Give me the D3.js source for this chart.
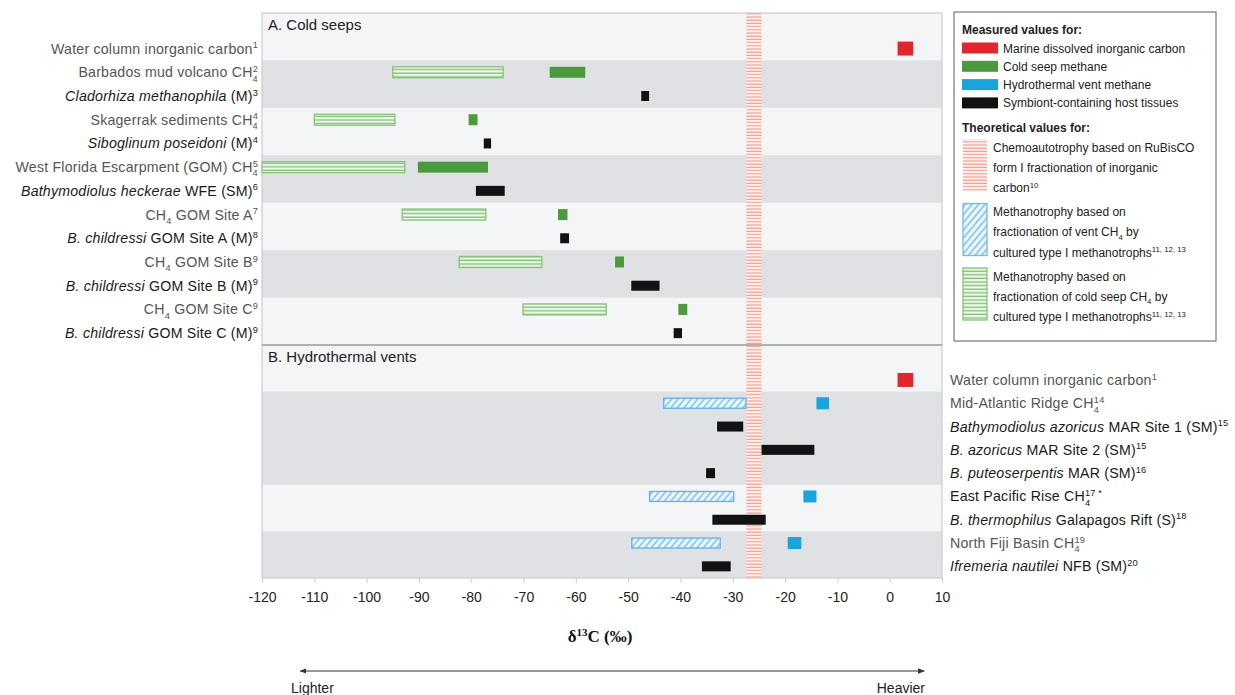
<!DOCTYPE html>
<html>
<head>
<meta charset="utf-8">
<script src="https://cdn.jsdelivr.net/npm/d3@7"></script>
<style>
body { margin: 0; background: #fff; font-family: "Liberation Sans", Arial, sans-serif; }
</style>
</head>
<body>
<svg width="1235" height="695"></svg>
<script>
// Row labels, top to bottom. *x* = italic, _{x} = subscript, ^{x} = superscript
var seepRows = [
    "Water column inorganic carbon^{1}",
    "Barbados mud volcano CH_{4}^{2}",
    "*Cladorhiza methanophila* (M)^{3}",
    "Skagerrak sediments CH_{4}^{4}",
    "*Siboglinum poseidoni* (M)^{4}",
    "West Florida Escarpment (GOM) CH_{4}^{5}",
    "*Bathymodiolus heckerae* WFE (SM)^{6}",
    "CH_{4} GOM Site A^{7}",
    "*B. childressi* GOM Site A (M)^{8}",
    "CH_{4} GOM Site B^{9}",
    "*B. childressi* GOM Site B (M)^{9}",
    "CH_{4} GOM Site C^{9}",
    "*B. childressi* GOM Site C (M)^{9}"
];
var seepGroups = [1, 2, 2, 2, 2, 2, 2];   // rows sharing one background band

var ventRows = [
    "Water column inorganic carbon^{1}",
    "Mid-Atlantic Ridge CH_{4}^{14}",
    "*Bathymodiolus azoricus* MAR Site 1 (SM)^{15}",
    "*B. azoricus* MAR Site 2 (SM)^{15}",
    "*B. puteoserpentis* MAR (SM)^{16}",
    "East Pacific Rise CH_{4}^{17 *}",
    "*B. thermophilus* Galapagos Rift (S)^{18}",
    "North Fiji Basin CH_{4}^{19}",
    "*Ifremeria nautilei* NFB (SM)^{20}"
];
var ventGroups = [1, 4, 2, 2];

// [row, low, high] in per mil
var seepDIC = [[0, 1.5, 4.5]];
var seepMethane = [[1, -65, -58.2], [3, -80.5, -78.8], [5, -90.2, -76.8], [7, -63.4, -61.6], [9, -52.5, -50.8], [11, -40.4, -38.7]];
var seepTheory = [[1, -95, -73.9], [3, -110, -94.6], [5, -120, -92.7], [7, -93.2, -77.2], [9, -82.3, -66.5], [11, -70.1, -54.2]];
var seepHost = [[2, -47.5, -46], [4, -77.6, -76.2], [6, -79.1, -73.6], [8, -63, -61.3], [10, -49.4, -44], [12, -41.3, -39.7]];

var ventDIC = [[0, 1.5, 4.5]];
var ventMethane = [[1, -14, -11.6], [5, -16.5, -14], [7, -19.5, -16.9]];
var ventTheory = [[1, -43.2, -27.5], [5, -45.9, -29.8], [7, -49.3, -32.4]];
var ventHost = [[2, -33, -28], [3, -24.5, -14.4], [4, -35.1, -33.4], [6, -33.9, -23.7], [8, -35.9, -30.4]];

var rubiscoBand = [-27.4, -24.5];
var xTicks = [-120, -110, -100, -90, -80, -70, -60, -50, -40, -30, -20, -10, 0, 10];

var legendMeasured = ["Marine dissolved inorganic carbon", "Cold seep methane", "Hydrothermal vent methane", "Symbiont-containing host tissues"];
var legendTheory = [
    ["Chemoautotrophy based on RuBisCO", "form I fractionation of inorganic", "carbon^{10}"],
    ["Methanotrophy based on", "fractionation of vent CH_{4} by", "cultured type I methanotrophs^{11, 12, 13}"],
    ["Methanotrophy based on", "fractionation of cold seep CH_{4} by", "cultured type I methanotrophs^{11, 12, 13}"]
];

var RED = "#e2262e", GREEN = "#4b9a3b", CYAN = "#19a4dc", BLACK = "#121212";

var svg = d3.select("svg");
var plotL = 262, plotR = 942, plotT = 13, plotMid = 345, plotB = 578;

var x = d3.scaleLinear().domain([-120, 10]).range([plotL, plotR]);

// patterns
var defs = svg.append("defs");
var hp = defs.append("pattern").attr("id", "redlines").attr("patternUnits", "userSpaceOnUse")
    .attr("width", 8).attr("height", 3.2);
hp.append("rect").attr("width", 8).attr("height", 3.2).attr("fill", "#fcf1ef");
hp.append("line").attr("x1", 0).attr("x2", 8).attr("y1", 1).attr("y2", 1)
    .attr("stroke", "#f0a090").attr("stroke-width", 1.2);
var bp = defs.append("pattern").attr("id", "bluehatch").attr("patternUnits", "userSpaceOnUse")
    .attr("width", 5).attr("height", 5).attr("patternTransform", "rotate(40)");
bp.append("rect").attr("width", 5).attr("height", 5).attr("fill", "#eef7fc");
bp.append("line").attr("x1", 1).attr("x2", 1).attr("y1", 0).attr("y2", 5)
    .attr("stroke", "#7ec2ea").attr("stroke-width", 1.6);
var gp = defs.append("pattern").attr("id", "greenlines").attr("patternUnits", "userSpaceOnUse")
    .attr("width", 8).attr("height", 3.6);
gp.append("rect").attr("width", 8).attr("height", 3.6).attr("fill", "#f4faf2");
gp.append("line").attr("x1", 0).attr("x2", 8).attr("y1", 1.2).attr("y2", 1.2)
    .attr("stroke", "#7fc073").attr("stroke-width", 1.4);

function richText(sel, str, size) {
    var parts = str.match(/\*[^*]+\*|_\{[^}]*\}|\^\{[^}]*\}|[^*_^]+/g);
    var shift = 0, prev = null;
    parts.forEach(function(p) {
        var t = sel.append("tspan"), target = 0, txt = p;
        if (p[0] === "*") { txt = p.slice(1, -1); t.attr("font-style", "italic"); }
        else if (p[0] === "_") { txt = p.slice(2, -1); target = size * 0.3; t.attr("font-size", size * 0.65); }
        else if (p[0] === "^") {
            txt = p.slice(2, -1); target = -size * 0.38; t.attr("font-size", size * 0.65);
            if (prev === "_") t.attr("dx", -size * 0.37);
        }
        t.attr("dy", target - shift).text(txt);
        shift = target; prev = p[0];
    });
}

function drawPanel(title, rows, groups, y0, y1, labelSide) {
    var y = d3.scaleBand().domain(d3.range(rows.length + 1)).range([y0, y1]);
    var g = svg.append("g");
    g.append("rect").attr("x", plotL).attr("y", y0).attr("width", plotR - plotL).attr("height", y1 - y0)
        .attr("fill", "#f4f5f7");
    // shaded bands per group
    var start = 1;
    groups.forEach(function(n, i) {
        if (i % 2 === 1) {
            g.append("rect").attr("x", plotL).attr("width", plotR - plotL)
                .attr("y", y(start)).attr("height", y.bandwidth() * n).attr("fill", "#dfe1e4");
        }
        start += n;
    });
    g.append("text").attr("x", plotL + 6).attr("y", y(0) + y.bandwidth() / 2 + 5)
        .attr("font-size", 15).attr("fill", "#222").text(title);

    // labels
    rows.forEach(function(r, i) {
        var species = r.indexOf("*") >= 0;
        var t = svg.append("text")
            .attr("x", labelSide === "left" ? plotL - 4 : plotR + 8)
            .attr("y", y(i + 1) + y.bandwidth() / 2 + 5)
            .attr("text-anchor", labelSide === "left" ? "end" : "start")
            .attr("font-size", 14.2)
            .attr("letter-spacing", 0.2)
            .attr("fill", species ? "#1a1a1a" : "#555");
        richText(t, r, 14.2);
    });
    return y;
}

function bars(y, data, h, style) {
    var sel = svg.append("g").selectAll("rect").data(data).enter().append("rect")
        .attr("x", d => x(d[1]))
        .attr("width", d => x(d[2]) - x(d[1]))
        .attr("y", d => y(d[0] + 1) + y.bandwidth() / 2 - h / 2)
        .attr("height", h);
    style(sel);
}

var yA = drawPanel("A. Cold seeps", seepRows, seepGroups, plotT, plotMid, "left");
var yB = drawPanel("B. Hydrothermal vents", ventRows, ventGroups, plotMid, plotB, "right");

// RuBisCO band across both panels
svg.append("rect").attr("x", x(rubiscoBand[0])).attr("width", x(rubiscoBand[1]) - x(rubiscoBand[0]))
    .attr("y", plotT).attr("height", plotB - plotT).attr("fill", "url(#redlines)");

function hollowGreen(s) { s.attr("fill", "url(#greenlines)").attr("stroke", "#86c27a").attr("stroke-width", 1.3); }
function hatchBlue(s) { s.attr("fill", "url(#bluehatch)").attr("stroke", "#5fb2e3").attr("stroke-width", 1.3); }

bars(yA, seepTheory, 11, hollowGreen);
bars(yA, seepMethane, 11, s => s.attr("fill", GREEN));
bars(yA, seepHost, 10, s => s.attr("fill", BLACK));
bars(yA, seepDIC, 14, s => s.attr("fill", RED));

bars(yB, ventTheory, 10, hatchBlue);
bars(yB, ventMethane, 12, s => s.attr("fill", CYAN));
bars(yB, ventHost, 10, s => s.attr("fill", BLACK));
bars(yB, ventDIC, 14, s => s.attr("fill", RED));

// frame and divider
svg.append("rect").attr("x", plotL).attr("y", plotT).attr("width", plotR - plotL).attr("height", plotB - plotT)
    .attr("fill", "none").attr("stroke", "#c4c4c4");
svg.append("line").attr("x1", plotL).attr("x2", plotR).attr("y1", plotMid).attr("y2", plotMid)
    .attr("stroke", "#9a9a9a").attr("stroke-width", 1.5);

// x axis
var ax = svg.append("g").attr("transform", "translate(0," + plotB + ")")
    .call(d3.axisBottom(x).tickValues(xTicks).tickFormat(d => String(d)).tickSize(5).tickPadding(9));
ax.select(".domain").remove();
ax.selectAll(".tick line").attr("stroke", "#ccc");
ax.selectAll(".tick text").attr("font-size", 14).attr("fill", "#222")
    .attr("font-family", "'Liberation Sans', Arial, sans-serif");

var xl = svg.append("text").attr("x", 600).attr("y", 642).attr("text-anchor", "middle")
    .attr("font-family", "'Liberation Serif', 'Times New Roman', serif").attr("font-weight", "bold")
    .attr("font-size", 17).attr("fill", "#111");
richText(xl, "δ^{13}C (‰)", 17);

// lighter / heavier arrow
defs.append("marker").attr("id", "arr").attr("viewBox", "0 0 10 10").attr("refX", 9).attr("refY", 5)
    .attr("markerWidth", 7).attr("markerHeight", 7).attr("orient", "auto-start-reverse")
    .append("path").attr("d", "M0,1 L10,5 L0,9 z").attr("fill", "#333");
svg.append("line").attr("x1", x(-112.7)).attr("x2", x(6.6)).attr("y1", 671).attr("y2", 671)
    .attr("stroke", "#333").attr("stroke-width", 1)
    .attr("marker-start", "url(#arr)").attr("marker-end", "url(#arr)");
svg.append("text").attr("x", 291).attr("y", 693).attr("font-size", 14).attr("fill", "#222").text("Lighter");
svg.append("text").attr("x", 925).attr("y", 693).attr("text-anchor", "end").attr("font-size", 14)
    .attr("fill", "#222").text("Heavier");

// legend
var lg = svg.append("g").attr("font-size", 12).attr("fill", "#222");
lg.append("rect").attr("x", 954).attr("y", 12).attr("width", 262).attr("height", 329)
    .attr("fill", "#fff").attr("stroke", "#777").attr("stroke-width", 1.2);
lg.append("text").attr("x", 962).attr("y", 34).attr("font-weight", "bold").text("Measured values for:");
var swatchCol = [RED, GREEN, CYAN, BLACK];
legendMeasured.forEach(function(t, i) {
    var cy = 48 + i * 18.3;
    lg.append("rect").attr("x", 962).attr("y", cy - 5.5).attr("width", 36).attr("height", 11).attr("fill", swatchCol[i]);
    lg.append("text").attr("x", 1003).attr("y", cy + 4.5).text(t);
});
lg.append("text").attr("x", 962).attr("y", 132).attr("font-weight", "bold").text("Theoretical values for:");
var swatchFill = ["url(#redlines)", "url(#bluehatch)", "url(#greenlines)"];
var swatchStroke = ["none", "#6fbbe8", "#86c27a"];
legendTheory.forEach(function(lines, i) {
    var y0 = 147 + i * 64.5;
    lg.append("rect").attr("x", 963).attr("y", y0 - 8).attr("width", 24).attr("height", 52)
        .attr("fill", swatchFill[i]).attr("stroke", swatchStroke[i]).attr("stroke-width", 1.3);
    lines.forEach(function(l, j) {
        var t = lg.append("text").attr("x", 993).attr("y", y0 + 4.5 + j * 20.3);
        richText(t, l, 12);
    });
});
</script>
</body>
</html>
